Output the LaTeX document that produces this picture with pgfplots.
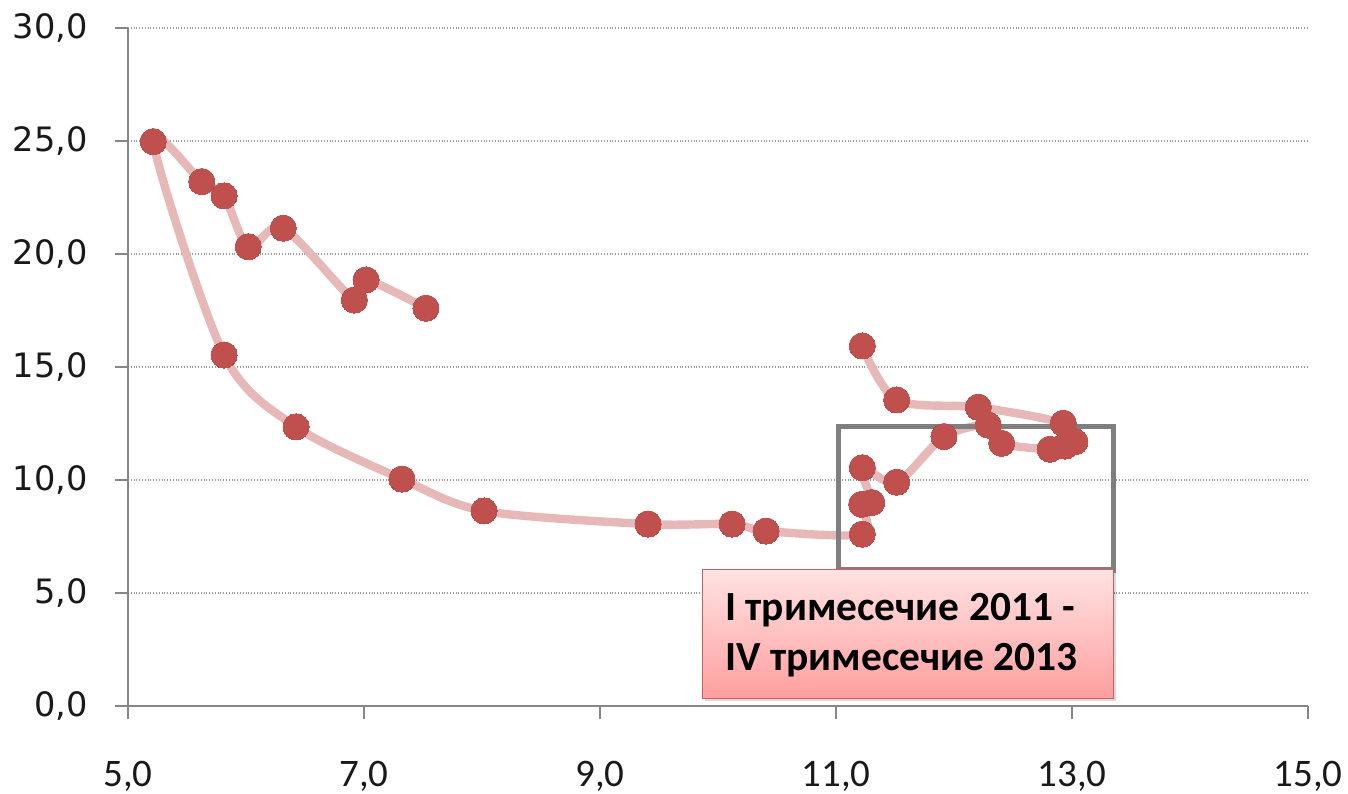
\documentclass[border=0pt]{standalone}
\usepackage{pgfplots}
\pgfplotsset{compat=1.18}
\usepackage{fontspec}
\setmainfont{Carlito}
\newfontfamily\carlito{Carlito}
\newfontfamily\dejavu{DejaVu Sans}
\usetikzlibrary{shadings}
\definecolor{mk}{HTML}{C0504D}
\definecolor{ln}{HTML}{E6B9B8}
\definecolor{axc}{HTML}{868686}
\definecolor{boxg}{HTML}{7F7F7F}
\definecolor{ptop}{HTML}{FFE3E3}
\definecolor{pbot}{HTML}{FF9E9E}
\pgfplotstableread{
x y
7.525 17.60
7.017 18.85
6.918 17.96
6.316 21.14
6.019 20.32
5.814 22.57
5.625 23.20
5.214 24.97
5.814 15.53
6.424 12.35
7.322 10.04
8.017 8.63
9.407 8.05
10.119 8.05
10.407 7.74
11.223 7.60
11.218 8.92
11.303 9.00
11.223 10.54
11.514 9.90
11.915 11.92
12.290 12.43
12.404 11.62
12.814 11.36
12.941 11.50
13.025 11.69
12.926 12.51
12.206 13.22
11.514 13.54
11.223 15.93
}\datatable
\begin{document}
\begin{tikzpicture}
\begin{axis}[
  scale only axis, width=590pt, height=339pt,
  xmin=5, xmax=15, ymin=0, ymax=30,
  xtick={5,7,...,15}, ytick={0,5,...,30},
  axis lines*=left,
  axis line style={axc, line width=0.75pt},
  tick style={axc, line width=0.75pt},
  tick align=outside,
  major tick length=6.5pt,
  ymajorgrids,
  grid style={densely dotted, gray!80, line width=0.6pt},
  /pgf/number format/.cd, fixed, fixed zerofill, precision=1, use comma, assume math mode=true,
  /pgfplots/.cd,
  xticklabel style={font=\carlito\fontsize{19.5}{22}\selectfont, inner sep=0pt, anchor=north, yshift=-20.8pt, text=black!90},
  yticklabel style={font=\dejavu\fontsize{16.8}{19}\selectfont, inner sep=0pt, anchor=east, xshift=-13.5pt, text=black!90},
  clip=false,
]
\addplot[ln, line width=4.2pt, smooth, tension=0.5, no marks] table[x=x,y=y] {\datatable};
\addplot[draw=none, only marks, mark=*, mark size=6.4pt, every mark/.append style={xshift=0.9pt, yshift=-1.1pt}, mark options={fill=black, draw=none, fill opacity=0.2}] table[x=x,y=y] {\datatable};
\addplot[mk, only marks, mark=*, mark size=6.5pt, mark options={fill=mk, draw=mk, line width=0pt}] table[x=x,y=y] {\datatable};
\draw[boxg, line width=2.6pt] (axis cs:11.02,12.36) rectangle (axis cs:13.35,6.02);
\fill[black, opacity=0.15] ([xshift=1.2pt,yshift=-1.5pt]axis cs:9.87,6.02) rectangle ([xshift=1.2pt,yshift=-1.5pt]axis cs:13.35,0.34);
\shade[top color=ptop, bottom color=pbot, draw=mk!90, line width=0.5pt] (axis cs:9.87,6.02) rectangle (axis cs:13.35,0.34);
\node[anchor=base west, inner sep=0pt, font=\carlito\bfseries\fontsize{20.7}{24}\selectfont] at (axis cs:10.059,3.805) {I тримесечие 2011 -};
\node[anchor=base west, inner sep=0pt, font=\carlito\bfseries\fontsize{20.7}{24}\selectfont] at (axis cs:10.059,1.593) {IV тримесечие 2013};
\end{axis}
\path (current axis.south west) ++(-64pt,-43.5pt) coordinate (bl);
\path (current axis.north east) ++(20pt,14pt) coordinate (tr);
\path (bl) rectangle (tr);
\end{tikzpicture}
\end{document}
